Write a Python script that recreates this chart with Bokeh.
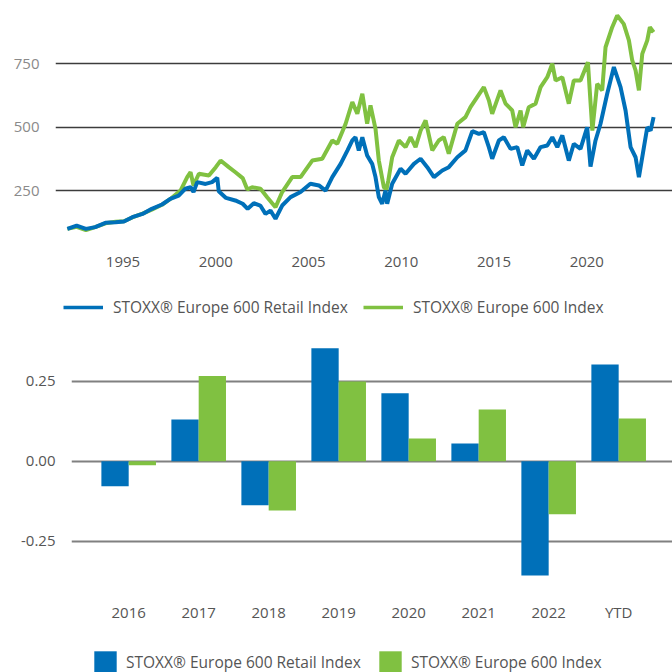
from bokeh.plotting import figure
from bokeh.models import (Range1d, FixedTicker, Legend, LegendItem, ColumnDataSource,
                          NumeralTickFormatter)
from bokeh.transform import dodge
from bokeh.embed import file_html
from bokeh.resources import INLINE

FONT = "Open Sans"
BLUE = "#0070B9"
GREEN = "#80C141"

# ---- Index levels ----
retail_t = [1992.0, 1992.5, 1993.0, 1993.5, 1994.05, 1994.6, 1995.05, 1995.5, 1996.05, 1996.55,
            1997.1, 1997.55, 1998.0, 1998.35, 1998.65, 1998.8, 1999.0, 1999.45, 1999.8, 2000.08,
            2000.16, 2000.55, 2001.05, 2001.45, 2001.72, 2002.05, 2002.4, 2002.68, 2002.95, 2003.22,
            2003.58, 2004.03, 2004.57, 2005.1, 2005.56, 2005.92, 2006.28, 2006.73, 2007.1, 2007.36,
            2007.53, 2007.71, 2007.9, 2008.16, 2008.43, 2008.61, 2008.79, 2008.97, 2009.15, 2009.24,
            2009.51, 2009.96, 2010.23, 2010.68, 2011.04, 2011.4, 2011.76, 2012.21, 2012.56, 2013.02,
            2013.46, 2013.83, 2014.18, 2014.45, 2014.72, 2014.9, 2015.26, 2015.53, 2015.89, 2016.25,
            2016.52, 2016.79, 2017.15, 2017.51, 2017.87, 2018.14, 2018.41, 2018.68, 2019.03, 2019.3,
            2019.66, 2020.02, 2020.2, 2020.47, 2020.74, 2021.1, 2021.46, 2021.82, 2022.09, 2022.36,
            2022.63, 2022.81, 2023.08, 2023.26, 2023.44, 2023.6]
retail_v = [100, 113, 100, 107, 124, 126, 129, 146, 159, 179,
            196, 218, 231, 258, 264, 245, 284, 277, 284, 301,
            248, 222, 212, 199, 179, 201, 192, 159, 172, 140,
            192, 225, 245, 278, 271, 251, 304, 356, 409, 448,
            461, 409, 461, 389, 356, 304, 225, 199, 251, 199,
            278, 337, 317, 356, 376, 343, 304, 330, 343, 382,
            409, 485, 474, 481, 422, 376, 448, 461, 415, 422,
            350, 409, 376, 422, 428, 461, 422, 468, 369, 435,
            415, 500, 345, 448, 514, 632, 737, 658, 566, 422,
            382, 304, 422, 500, 487, 540]

stoxx_t = [1992.0, 1992.5, 1993.0, 1993.5, 1994.05, 1994.6, 1995.05, 1995.5, 1996.05, 1996.55,
           1997.1, 1997.55, 1998.1, 1998.46, 1998.64, 1998.8, 1999.09, 1999.63, 2000.0, 2000.26,
           2000.7, 2001.06, 2001.45, 2001.7, 2001.96, 2002.41, 2002.77, 2003.22, 2003.58, 2004.12,
           2004.57, 2005.2, 2005.74, 2006.28, 2006.55, 2007.0, 2007.36, 2007.63, 2007.9, 2008.16,
           2008.34, 2008.61, 2008.79, 2009.06, 2009.2, 2009.3, 2009.51, 2009.87, 2010.23, 2010.5,
           2010.77, 2011.04, 2011.31, 2011.67, 2012.02, 2012.29, 2012.56, 2013.02, 2013.46, 2013.73,
           2014.09, 2014.45, 2014.72, 2014.9, 2015.35, 2015.62, 2015.98, 2016.16, 2016.43, 2016.57,
           2016.87, 2017.24, 2017.51, 2017.87, 2018.14, 2018.32, 2018.68, 2019.03, 2019.3, 2019.66,
           2020.06, 2020.3, 2020.56, 2020.83, 2021.01, 2021.37, 2021.64, 2021.99, 2022.27, 2022.45,
           2022.63, 2022.81, 2022.99, 2023.26, 2023.4, 2023.6]
stoxx_v = [100, 108, 95, 107, 122, 128, 130, 145, 160, 176,
           195, 218, 251, 304, 323, 271, 317, 310, 343, 369,
           343, 323, 300, 255, 264, 258, 225, 185, 245, 304,
           304, 369, 376, 448, 435, 514, 599, 553, 632, 514,
           586, 494, 369, 264, 255, 290, 382, 448, 422, 461,
           422, 487, 527, 409, 448, 461, 396, 514, 540, 579,
           619, 658, 606, 553, 645, 593, 566, 500, 566, 500,
           579, 593, 658, 697, 750, 684, 697, 593, 684, 684,
           756, 487, 671, 645, 815, 894, 940, 907, 842, 763,
           724, 645, 789, 842, 894, 874]

year_ticks = [1995, 2000, 2005, 2010, 2015, 2020]
level_ticks = [250, 500, 750]

# ---- Annual returns ----
categories = ["2016", "2017", "2018", "2019", "2020", "2021", "2022", "YTD"]
retail_ret = [-0.078, 0.130, -0.1375, 0.353, 0.2125, 0.055, -0.357, 0.302]
stoxx_ret = [-0.0125, 0.266, -0.154, 0.249, 0.071, 0.1615, -0.1656, 0.133]
return_ticks = [-0.25, 0.0, 0.25]

NAME_R = "STOXX® Europe 600 Retail Index"
NAME_S = "STOXX® Europe 600 Index"


def style_axes(p, color):
    for ax in (p.xaxis[0], p.yaxis[0]):
        ax.axis_line_color = None
        ax.major_tick_line_color = None
        ax.minor_tick_line_color = None
        ax.major_tick_out = 0
        ax.major_tick_in = 0
        ax.minor_tick_out = 0
        ax.minor_tick_in = 0
        ax.major_label_text_font = FONT
        ax.major_label_text_font_size = "15px"
        ax.major_label_text_color = color


def legend_figure(h):
    # a strip that only holds a legend; its ranges keep the proxy glyphs out of view
    f = figure(width=672, height=h, output_backend="svg", toolbar_location=None,
               x_range=Range1d(-3, -2), y_range=Range1d(-3, -2),
               x_axis_type=None, y_axis_type=None,
               min_border_left=0, min_border_right=0, min_border_top=0, min_border_bottom=0)
    f.outline_line_color = None
    f.grid.visible = False
    return f


def legend_model(items, loc, gw, gh, standoff):
    return Legend(items=items, orientation="horizontal", location=loc, margin=0, padding=0,
                  spacing=15, glyph_width=gw, glyph_height=gh, label_height=gh,
                  label_standoff=standoff, label_text_font=FONT, label_text_font_size="15.5px",
                  label_text_color="#555555", border_line_color=None, background_fill_alpha=0)


# ================= top chart =================
p1 = figure(width=672, height=280, output_backend="svg", toolbar_location=None,
            x_range=Range1d(1991.36, 2024.62), y_range=Range1d(15, 999),
            min_border_left=55, min_border_right=0, min_border_top=0, min_border_bottom=30)
p1.outline_line_color = None
p1.xgrid.visible = False
p1.ygrid.ticker = FixedTicker(ticks=level_ticks)
p1.ygrid.grid_line_color = "#3c3c3c"
p1.ygrid.grid_line_width = 1.4
style_axes(p1, "#555555")
p1.yaxis.ticker = FixedTicker(ticks=level_ticks)
p1.yaxis.major_label_standoff = 16
p1.yaxis.major_label_text_color = "#8a8a8a"
p1.xaxis.ticker = FixedTicker(ticks=year_ticks)
p1.xaxis.major_label_standoff = 6

p1.line(stoxx_t, stoxx_v, line_color=GREEN, line_width=4)
p1.line(retail_t, retail_v, line_color=BLUE, line_width=4)

# legend strip for the top chart
l1 = legend_figure(60)
lg = l1.line(stoxx_t, stoxx_v, line_color=GREEN, line_width=3.5)
lb = l1.line(retail_t, retail_v, line_color=BLUE, line_width=3.5)
l1.add_layout(legend_model([LegendItem(label=NAME_R, renderers=[lb]),
                            LegendItem(label=NAME_S, renderers=[lg])],
                           (63, 22), 40, 20, 10))

# ================= bottom chart =================
src = ColumnDataSource(dict(pos=list(range(len(categories))), retail=retail_ret, stoxx=stoxx_ret))
p2 = figure(width=672, height=290, output_backend="svg", toolbar_location=None,
            x_range=Range1d(-0.817, 7.769), y_range=Range1d(-0.404, 0.377),
            min_border_left=71, min_border_right=0, min_border_top=0, min_border_bottom=40)
p2.outline_line_color = None
p2.xgrid.visible = False
p2.ygrid.ticker = FixedTicker(ticks=return_ticks)
p2.ygrid.grid_line_color = "#808080"
p2.ygrid.grid_line_width = 2
style_axes(p2, "#555555")
p2.yaxis.ticker = FixedTicker(ticks=return_ticks)
p2.yaxis.formatter = NumeralTickFormatter(format="0.00")
p2.yaxis.major_label_standoff = 16
p2.xaxis.ticker = FixedTicker(ticks=list(range(len(categories))))
p2.xaxis.major_label_overrides = {i: c for i, c in enumerate(categories)}
p2.xaxis.major_label_standoff = 11

p2.vbar(x=dodge("pos", -0.195, range=p2.x_range), top="retail", bottom=0, width=0.39,
        source=src, fill_color=BLUE, line_color=None)
p2.vbar(x=dodge("pos", 0.195, range=p2.x_range), top="stoxx", bottom=0, width=0.39,
        source=src, fill_color=GREEN, line_color=None)

# legend strip for the bottom chart
l2 = legend_figure(42)
sb = l2.vbar(x="pos", top="retail", bottom=0, width=0.39, source=src,
             fill_color=BLUE, line_color=None)
sg = l2.vbar(x="pos", top="stoxx", bottom=0, width=0.39, source=src,
             fill_color=GREEN, line_color=None)
l2.add_layout(legend_model([LegendItem(label=NAME_R, renderers=[sb]),
                            LegendItem(label=NAME_S, renderers=[sg])],
                           (91, -3.5), 28, 28, 7))

open("out.html", "w").write(file_html([p1, l1, p2, l2], INLINE))
